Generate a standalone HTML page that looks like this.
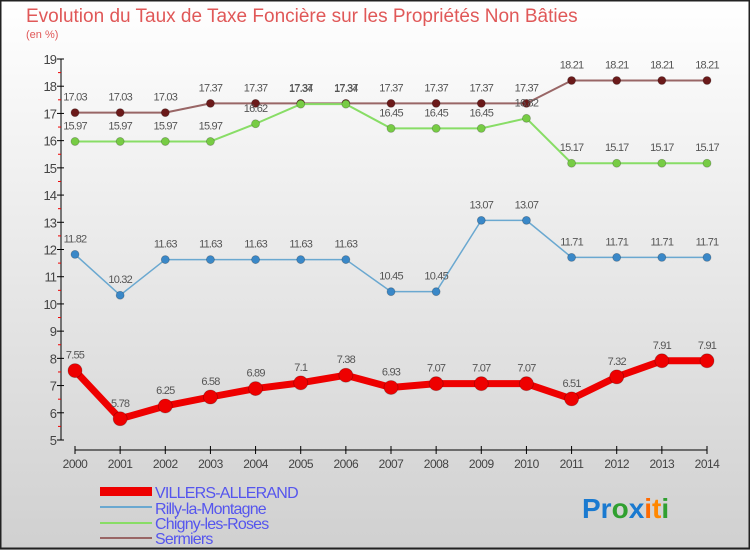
<!DOCTYPE html>
<html><head><meta charset="utf-8"><style>
body{margin:0;}
#c{width:750px;height:550px;position:relative;overflow:hidden;font-family:"Liberation Sans",sans-serif;background:linear-gradient(#ffffff,#d0d0d0);}
</style></head><body>
<div id="c">
<svg id="s" width="750" height="550" xmlns="http://www.w3.org/2000/svg">
<rect x="0.5" y="0.5" width="749" height="548" fill="none" stroke="#222" stroke-width="2"/>
<text x="26" y="22" font-size="19" fill="#e05858">Evolution du Taux de Taxe Foncière sur les Propriétés Non Bâties</text>
<text x="26" y="38" font-size="11" fill="#e05858">(en %)</text>
<g id="axes"></g><g id="series"></g>
<g font-size="16" fill="#5555ee">
<rect x="100" y="487" width="52" height="9" fill="#ee0000"/>
<text x="155" y="498" letter-spacing="-0.8">VILLERS-ALLERAND</text>
<rect x="100" y="506" width="52" height="2" fill="#6aa8d0"/>
<text x="155" y="514" letter-spacing="-0.8">Rilly-la-Montagne</text>
<rect x="100" y="522" width="52" height="2" fill="#88dd66"/>
<text x="155" y="529" letter-spacing="-0.8">Chigny-les-Roses</text>
<rect x="100" y="537" width="52" height="2" fill="#996666"/>
<text x="155" y="544" letter-spacing="-0.8">Sermiers</text>
</g>
<text x="582" y="518" font-size="28" font-weight="bold"><tspan fill="#1a7ad0">Pr</tspan><tspan fill="#30a030">o</tspan><tspan fill="#1a7ad0">x</tspan><tspan fill="#ff6a00">i</tspan><tspan fill="#ff8800">t</tspan><tspan fill="#30a030">i</tspan></text>
</svg></div>
<script>
const years=[2000,2001,2002,2003,2004,2005,2006,2007,2008,2009,2010,2011,2012,2013,2014];
const villers=[7.55,5.78,6.25,6.58,6.89,7.1,7.38,6.93,7.07,7.07,7.07,6.51,7.32,7.91,7.91];
const rilly=[11.82,10.32,11.63,11.63,11.63,11.63,11.63,10.45,10.45,13.07,13.07,11.71,11.71,11.71,11.71];
const chigny=[15.97,15.97,15.97,15.97,16.62,17.34,17.34,16.45,16.45,16.45,16.82,15.17,15.17,15.17,15.17];
const sermiers=[17.03,17.03,17.03,17.37,17.37,17.37,17.37,17.37,17.37,17.37,17.37,18.21,18.21,18.21,18.21];
const yTicks=[5,6,7,8,9,10,11,12,13,14,15,16,17,18,19];
const NS="http://www.w3.org/2000/svg";
const X=i=>75+i*(707-75)/(years.length-1);
const Y=v=>440-(v-5)*(440-59)/14;
function mk(t,a,p){const e=document.createElementNS(NS,t);for(const k in a)e.setAttribute(k,a[k]);p.appendChild(e);return e;}
const ax=document.getElementById('axes');
let l=mk('line',{x1:61,y1:Y(19),x2:61,y2:Y(5),stroke:'#000'},ax);


l=mk('line',{x1:X(0),y1:450,x2:X(14),y2:450,stroke:'#000'},ax);


yTicks.forEach(v=>{
 mk('line',{x1:57,y1:Y(v),x2:64,y2:Y(v),stroke:'#000'},ax);
 if(v<19)mk('line',{x1:58,y1:Y(v+0.5),x2:61,y2:Y(v+0.5),stroke:'#e00'},ax);
 const t=mk('text',{x:56,y:Y(v)+5,'font-size':13,fill:'#444','text-anchor':'end','letter-spacing':'-1'},ax);
 t.textContent=v;
 
 
});
years.forEach((y,i)=>{
 mk('line',{x1:X(i),y1:446,x2:X(i),y2:454,stroke:'#000'},ax);
 const t=mk('text',{x:X(i),y:468,'font-size':12,fill:'#444','text-anchor':'middle','letter-spacing':'-0.5'},ax);
 t.textContent=y;
 
 
});
const sg=document.getElementById('series');
function draw(vals,name,color,dot,w,r){
 const g=mk('g',{},sg);
 
 
 mk('polyline',{points:vals.map((v,i)=>X(i)+','+Y(v)).join(' '),fill:'none',stroke:color,'stroke-width':w,'stroke-linejoin':'round'},g);
 vals.forEach((v,i)=>{
  const c=mk('circle',{cx:X(i),cy:Y(v),r:r,fill:dot,stroke:'rgba(0,0,0,0.25)','stroke-width':0.8},g);
  
  
  const t=mk('text',{x:X(i),y:Y(v)-12,'font-size':11,fill:'#555','text-anchor':'middle','letter-spacing':'-0.8'},g);
  t.textContent=v;
  
  
 });
}
draw(sermiers,'sermiers','#996666','#6b1a1a',2,4);
draw(chigny,'chigny','#88dd66','#77cc44',2,4);
draw(rilly,'rilly','#6aa8d0','#3a88c8',1.5,4);
draw(villers,'villers','#ee0000','#ee0000',7,7);
</script>
</body></html>
